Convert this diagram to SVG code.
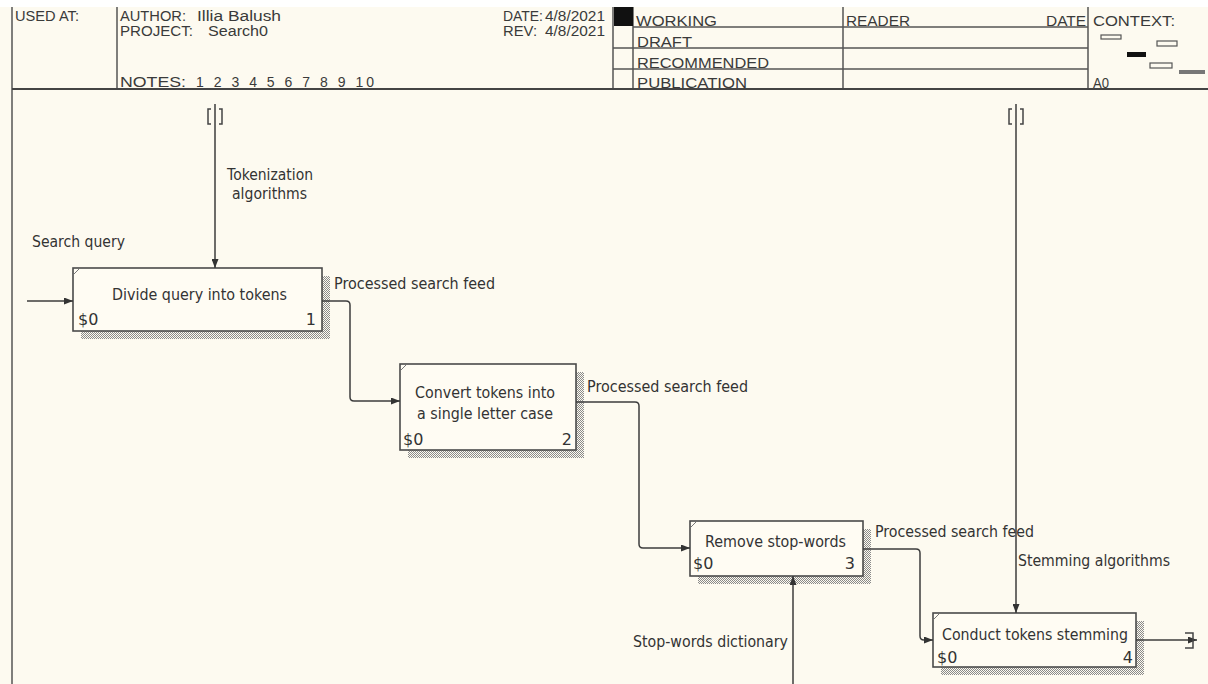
<svg xmlns="http://www.w3.org/2000/svg" width="1208" height="684" viewBox="0 0 1208 684">
<defs>
<pattern id="dots" width="2" height="2" patternUnits="userSpaceOnUse"><rect width="1" height="1" fill="#8a8a8a"/><rect x="1" y="1" width="1" height="1" fill="#8a8a8a"/></pattern>
<marker id="ah" markerWidth="9" markerHeight="7" refX="9" refY="3.5" orient="auto" markerUnits="userSpaceOnUse"><path d="M0,0 L9,3.5 L0,7 z" fill="#333"/></marker>
</defs>
<style>
.hl{stroke:#555;stroke-width:1.5;fill:none}
.ht{font-family:"Liberation Sans",Arial,sans-serif;font-size:14px;fill:#3a3a3a}
.box{fill:#fffcf3;stroke:#4a4a4a;stroke-width:1.6}
.sh{fill:url(#dots)}
.tick{stroke:#777;stroke-width:1;fill:none}
.t{font-family:"DejaVu Sans",Verdana,sans-serif;font-size:16px;fill:#333}
.c{fill:none;stroke:#3d3d3d;stroke-width:1.5}
.tn{fill:none;stroke:#444;stroke-width:1.5}
</style>
<rect x="0" y="0" width="1208" height="684" fill="#fdfaf0"/>
<rect x="0" y="0" width="1208" height="7" fill="#ffffff"/>

<g id="header">
  <line class="hl" x1="12" y1="7" x2="12" y2="684"/>
  <line class="hl" x1="117" y1="7" x2="117" y2="89"/>
  <line class="hl" x1="613" y1="7" x2="613" y2="89"/>
  <line class="hl" x1="633" y1="7" x2="633" y2="89"/>
  <line class="hl" x1="843" y1="7" x2="843" y2="89"/>
  <line class="hl" x1="1088" y1="7" x2="1088" y2="89"/>
  <rect x="614" y="7" width="19" height="19" fill="#111"/>
  <line class="hl" x1="633" y1="27" x2="1088" y2="27"/>
  <line class="hl" x1="613" y1="48" x2="1088" y2="48"/>
  <line class="hl" x1="613" y1="69" x2="1088" y2="69"/>
  <line x1="12" y1="89" x2="1208" y2="89" stroke="#444" stroke-width="2.2"/>
  <text class="ht" x="15" y="21" textLength="64" lengthAdjust="spacingAndGlyphs">USED AT:</text>
  <text class="ht" x="120" y="21" textLength="66" lengthAdjust="spacingAndGlyphs">AUTHOR:</text>
  <text class="ht" x="197" y="21" textLength="84" lengthAdjust="spacingAndGlyphs">Illia Balush</text>
  <text class="ht" x="120" y="36" textLength="73" lengthAdjust="spacingAndGlyphs">PROJECT:</text>
  <text class="ht" x="208" y="36" textLength="60" lengthAdjust="spacingAndGlyphs">Search0</text>
  <text class="ht" x="120" y="87" textLength="66" lengthAdjust="spacingAndGlyphs">NOTES:</text>
  <text class="ht" x="196" y="87" textLength="178" lengthAdjust="spacing">1 2 3 4 5 6 7 8 9 10</text>
  <text class="ht" x="503" y="21" textLength="40" lengthAdjust="spacingAndGlyphs">DATE:</text>
  <text class="ht" x="605" y="21" text-anchor="end" textLength="60" lengthAdjust="spacingAndGlyphs">4/8/2021</text>
  <text class="ht" x="503" y="36" textLength="34" lengthAdjust="spacingAndGlyphs">REV:</text>
  <text class="ht" x="605" y="36" text-anchor="end" textLength="60" lengthAdjust="spacingAndGlyphs">4/8/2021</text>
  <text class="ht" x="636" y="26" textLength="81" lengthAdjust="spacingAndGlyphs">WORKING</text>
  <text class="ht" x="846" y="26" textLength="64" lengthAdjust="spacingAndGlyphs">READER</text>
  <text class="ht" x="1086" y="26" text-anchor="end" textLength="40" lengthAdjust="spacingAndGlyphs">DATE</text>
  <text class="ht" x="1093" y="26" textLength="82" lengthAdjust="spacingAndGlyphs">CONTEXT:</text>
  <text class="ht" x="637" y="47" textLength="55" lengthAdjust="spacingAndGlyphs">DRAFT</text>
  <text class="ht" x="637" y="68" textLength="132" lengthAdjust="spacingAndGlyphs">RECOMMENDED</text>
  <text class="ht" x="637" y="88" textLength="110" lengthAdjust="spacingAndGlyphs">PUBLICATION</text>
  <text class="ht" x="1093" y="88" textLength="16" lengthAdjust="spacingAndGlyphs">A0</text>
  <rect x="1101" y="35" width="20" height="4" fill="none" stroke="#555" stroke-width="1.2"/>
  <rect x="1157" y="41" width="20" height="5" fill="none" stroke="#555" stroke-width="1.2"/>
  <rect x="1127" y="52" width="19" height="5" fill="#111"/>
  <rect x="1150" y="63" width="22" height="5" fill="none" stroke="#555" stroke-width="1.2"/>
  <rect x="1179" y="70" width="26" height="4" fill="#777"/>
</g>

<g id="node1">
  <rect class="sh" x="81" y="276" width="249" height="63"/>
  <rect class="box" x="73" y="268" width="249" height="63"/>
  <path class="tick" d="M74 274 L79 269"/>
  <text class="t" x="199.5" y="300" text-anchor="middle" textLength="175" lengthAdjust="spacingAndGlyphs">Divide query into tokens</text>
  <text class="t" x="78" y="325">$0</text>
  <text class="t" x="316" y="325" text-anchor="end">1</text>
</g>

<g id="node2">
  <rect class="sh" x="408" y="372" width="176" height="86"/>
  <rect class="box" x="400" y="364" width="176" height="86"/>
  <path class="tick" d="M401 370 L406 365"/>
  <text class="t" x="485" y="398" text-anchor="middle" textLength="140" lengthAdjust="spacingAndGlyphs">Convert tokens into</text>
  <text class="t" x="485" y="419" text-anchor="middle" textLength="136" lengthAdjust="spacingAndGlyphs">a single letter case</text>
  <text class="t" x="403" y="445">$0</text>
  <text class="t" x="572" y="445" text-anchor="end">2</text>
</g>

<g id="node3">
  <rect class="sh" x="698" y="529" width="173" height="55"/>
  <rect class="box" x="690" y="521" width="173" height="55"/>
  <path class="tick" d="M691 527 L696 522"/>
  <text class="t" x="775.5" y="547" text-anchor="middle" textLength="141" lengthAdjust="spacingAndGlyphs">Remove stop-words</text>
  <text class="t" x="693" y="569">$0</text>
  <text class="t" x="855" y="569" text-anchor="end">3</text>
</g>

<g id="node4">
  <rect class="sh" x="941" y="621" width="203" height="54"/>
  <rect class="box" x="933" y="613" width="203" height="54"/>
  <path class="tick" d="M934 619 L939 614"/>
  <text class="t" x="1035" y="640" text-anchor="middle" textLength="186" lengthAdjust="spacingAndGlyphs">Conduct tokens stemming</text>
  <text class="t" x="937" y="663">$0</text>
  <text class="t" x="1133" y="663" text-anchor="end">4</text>
</g>

<g id="connectors">
  <path class="c" d="M27 301 H73" marker-end="url(#ah)"/>
  <path class="c" d="M215 104 V268" marker-end="url(#ah)"/>
  <path class="tn" d="M211 109 H208 V124 H211 M219 109 H222 V124 H219"/>
  <path class="c" d="M322 301 H346 Q350 301 350 305 V397 Q350 401 354 401 H400" marker-end="url(#ah)"/>
  <path class="c" d="M576 402 H635 Q639 402 639 406 V544 Q639 548 643 548 H690" marker-end="url(#ah)"/>
  <path class="c" d="M863 549 H916 Q920 549 920 553 V636 Q920 640 924 640 H933" marker-end="url(#ah)"/>
  <path class="c" d="M1016 104 V613" marker-end="url(#ah)"/>
  <path class="tn" d="M1012 109 H1009 V124 H1012 M1020 109 H1023 V124 H1020"/>
  <path class="c" d="M793 684 V576" marker-end="url(#ah)"/>
  <path class="c" d="M1136 640 H1197" marker-end="url(#ah)"/>
  <path class="tn" d="M1185 633 H1193 V648 H1185"/>
  <text class="t" x="227" y="180" textLength="86" lengthAdjust="spacingAndGlyphs">Tokenization</text>
  <text class="t" x="232" y="199" textLength="75" lengthAdjust="spacingAndGlyphs">algorithms</text>
  <text class="t" x="32" y="247" textLength="93" lengthAdjust="spacingAndGlyphs">Search query</text>
  <text class="t" x="334" y="289" textLength="161" lengthAdjust="spacingAndGlyphs">Processed search feed</text>
  <text class="t" x="587" y="392" textLength="161" lengthAdjust="spacingAndGlyphs">Processed search feed</text>
  <text class="t" x="875" y="537" textLength="159" lengthAdjust="spacingAndGlyphs">Processed search feed</text>
  <text class="t" x="1018" y="566" textLength="152" lengthAdjust="spacingAndGlyphs">Stemming algorithms</text>
  <text class="t" x="633" y="647" textLength="155" lengthAdjust="spacingAndGlyphs">Stop-words dictionary</text>
</g>
</svg>
